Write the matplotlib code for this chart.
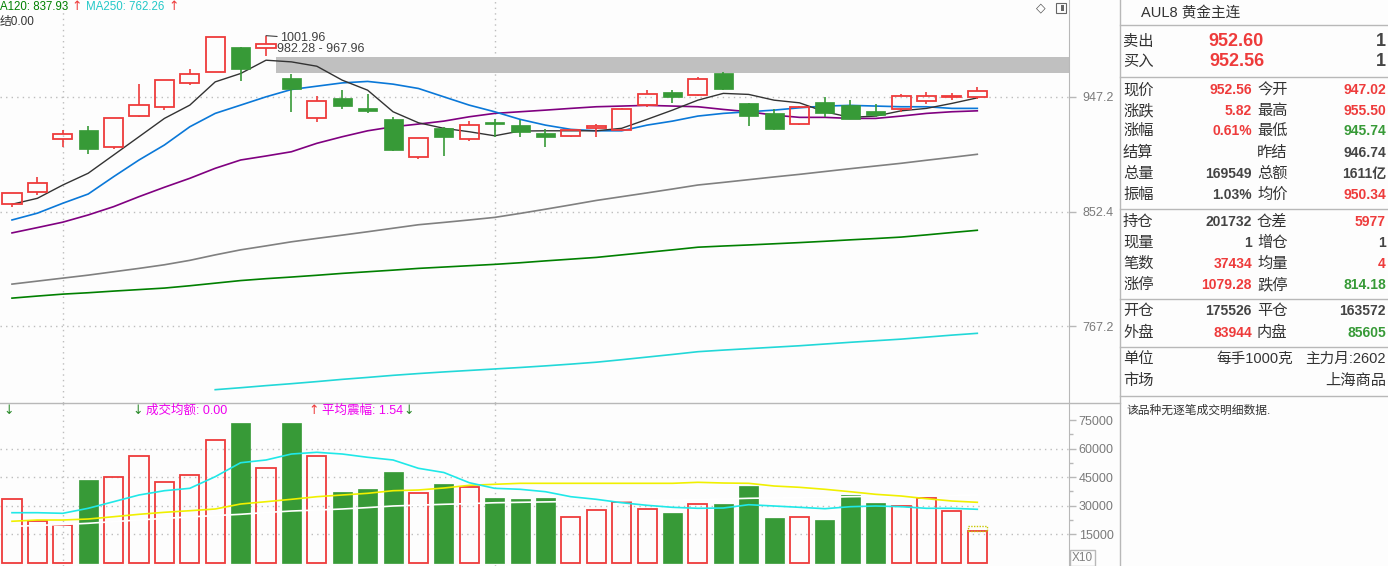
import numpy as np
import matplotlib
matplotlib.use("Agg")
import matplotlib.pyplot as plt
from matplotlib.patches import Rectangle
from matplotlib.lines import Line2D
from matplotlib.ticker import FixedLocator, FixedFormatter, NullLocator

plt.rcParams['font.family'] = ['Liberation Sans', 'Noto Sans CJK SC', 'DejaVu Sans']

# ---- daily bars (AUL8 黄金主连) ----
opens = [858.2, 867.7, 910.9, 918.7, 904.8, 930.3, 938.0, 958.9, 969.2, 991.6,
         991.1, 963.6, 928.6, 946.1, 937.4, 928.0, 896.0, 920.4, 910.9, 925.5,
         922.7, 916.2, 913.9, 920.4, 918.7, 940.3, 951.3, 948.4, 968.0, 941.8,
         933.1, 923.5, 942.6, 939.8, 934.9, 936.3, 943.2, 947.2, 947.02]
closes = [866.9, 874.9, 915.1, 902.6, 928.6, 939.8, 961.6, 966.9, 1000.5, 971.8,
          994.7, 954.2, 943.5, 939.4, 935.1, 902.3, 911.8, 913.1, 922.7, 924.1,
          916.8, 913.1, 918.7, 922.1, 936.6, 949.6, 947.2, 962.7, 953.9, 930.6,
          919.8, 938.6, 933.4, 928.3, 931.4, 947.5, 947.5, 947.8, 952.56]
highs = [867.5, 880.2, 918.7, 922.1, 929.0, 958.3, 962.2, 971.3, 1000.5, 992.0,
         1001.96, 967.5, 947.8, 953.0, 949.6, 930.0, 912.3, 921.5, 926.3, 928.0,
         926.9, 919.6, 919.2, 923.5, 937.7, 953.0, 953.0, 964.5, 969.2, 942.2,
         936.6, 939.0, 946.9, 944.3, 940.6, 949.6, 951.3, 950.4, 955.50]
lows = [856.3, 865.8, 904.8, 898.7, 902.8, 930.0, 935.7, 957.7, 968.7, 961.2,
        983.5, 934.3, 925.2, 936.8, 932.9, 901.4, 894.9, 897.3, 909.7, 912.6,
        913.1, 904.8, 913.1, 913.1, 917.9, 938.0, 942.0, 948.0, 953.0, 922.4,
        919.0, 923.3, 930.0, 927.8, 929.5, 934.3, 940.6, 944.6, 945.74]

ma5 = [858.2, 862.9, 873.5, 883.0, 897.9, 913.1, 928.6, 940.0, 960.3, 967.7,
       979.6, 978.1, 974.2, 961.8, 953.0, 934.3, 924.9, 920.2, 917.3, 913.9,
       917.9, 918.1, 918.1, 918.1, 920.2, 927.8, 935.7, 944.3, 950.2, 949.3,
       944.3, 942.0, 934.3, 929.5, 930.6, 935.1, 937.2, 941.5, 946.3]
ma10 = [845.9, 851.2, 859.0, 866.3, 880.2, 893.8, 906.2, 921.5, 932.9, 940.0,
        947.2, 953.6, 956.5, 959.4, 960.7, 958.3, 954.5, 947.2, 940.0, 934.3,
        927.8, 922.9, 919.3, 918.1, 918.1, 922.9, 926.3, 930.6, 932.9, 934.3,
        935.7, 937.7, 939.2, 939.8, 939.2, 938.6, 938.6, 937.2, 937.2]
ma20 = [835.9, 840.0, 844.2, 849.8, 856.3, 864.2, 871.7, 878.9, 887.0, 893.8,
        897.1, 900.6, 907.6, 913.1, 918.1, 921.5, 923.8, 926.3, 930.0, 932.9,
        934.3, 935.7, 937.2, 938.6, 939.2, 939.8, 939.2, 938.6, 936.3, 934.3,
        931.4, 929.5, 929.5, 928.6, 928.6, 930.6, 932.9, 934.3, 935.1]
ma60 = [797.5, 799.7, 801.9, 804.1, 806.6, 809.1, 811.8, 815.1, 819.2, 823.0,
        826.0, 829.1, 831.7, 834.2, 836.8, 839.5, 842.2, 844.0, 845.9, 847.9,
        851.0, 854.3, 857.7, 861.2, 864.2, 867.2, 870.3, 873.5, 875.6, 877.8,
        880.0, 882.1, 884.4, 886.7, 888.9, 891.1, 893.6, 896.0, 898.5]
ma120 = [787.3, 788.8, 790.2, 791.2, 792.4, 793.5, 794.6, 796.3, 798.2, 800.1,
         801.5, 802.7, 804.0, 805.4, 806.6, 807.8, 809.1, 810.1, 811.1, 812.1,
         813.3, 814.7, 816.0, 817.3, 819.2, 821.1, 823.0, 825.0, 825.9, 826.7,
         827.6, 828.5, 829.5, 830.6, 831.6, 832.7, 834.4, 836.2, 837.93]
ma250 = [np.nan] * 8 + [
    723.8, 725.1, 726.5, 727.8, 729.2, 730.7, 732.0, 733.4, 734.6, 735.7,
    736.7, 737.7, 738.7, 739.8, 741.0, 742.3, 744.0, 745.8, 747.6, 749.5,
    750.6, 751.6, 752.6, 753.6, 754.8, 756.0, 757.1, 758.2, 759.6, 761.0, 762.26]

volumes = [33260, 21900, 19580, 43420, 44840, 55890, 42210, 45890, 64320, 73420,
           49580, 73420, 55890, 37110, 38680, 47630, 36420, 41320, 39560, 33950,
           33420, 33950, 23780, 27470, 31680, 28000, 26050, 30630, 30790, 40260,
           23420, 23780, 22370, 35530, 31320, 29580, 33790, 26950, 16420]
vol_ma5 = [26210, 26210, 25890, 28530, 32000, 35530, 37790, 39050, 45160, 52520,
           53950, 57100, 58000, 57100, 55370, 53950, 49580, 47370, 42000, 39050,
           38530, 37260, 34630, 33260, 31470, 30100, 29050, 28530, 28680, 30420,
           29740, 29050, 28320, 29370, 29740, 29370, 28530, 28530, 28000]
vol_ma10 = [21700, 22370, 22370, 22890, 24100, 25370, 26420, 27260, 28160, 30790,
            32000, 33260, 34630, 35530, 36420, 37790, 38160, 39210, 40630, 41160,
            41680, 41680, 41680, 41680, 41680, 41680, 41680, 42210, 41840, 41680,
            40260, 39580, 38530, 37260, 35890, 35000, 33580, 32370, 31680]
vol_ma60 = [19000, 19500, 20000, 20630, 21500, 22400, 23200, 24000, 24700, 25370,
            26300, 27100, 27600, 28160, 28900, 29740, 30200, 30630, 31000, 31450,
            31680, 31900, 32100, 32300, 32500, 32700, 32900, 33100, 33400, 33790,
            34000, 34100, 34300, 34630, 34800, 35000, 35200, 35300, 35500]
vol_estimate = 19050

price_ticks = [767.2, 852.4, 947.2]
vol_ticks = [15000, 30000, 45000, 60000, 75000]
band_low, band_high = 967.96, 982.28

RED = '#ee3b3b'
GREEN = '#379a37'
BG = '#fdfdfd'
GRID = '#bdbdbd'
AXC = '#b8b8b8'
ARROW_FONT = ['DejaVu Sans']

W, H = 1388, 566
fig = plt.figure(figsize=(W / 100, H / 100), dpi=100)
fig.patch.set_facecolor(BG)


def fx(x):
    return x / W


def fy(y):
    return 1 - y / H


ax = fig.add_axes([0, fy(403), fx(1069), 1 - fy(403)])
axv = fig.add_axes([0, 0, fx(1069), fy(403)])
n = len(closes)
idx = np.arange(n)
bw = 0.75

for a in (ax, axv):
    a.set_facecolor(BG)
    a.set_xlim(-0.472, 41.61)
    a.set_xticks([])
    for s in ('top', 'left', 'bottom'):
        a.spines[s].set_visible(False)
    a.spines['right'].set_color(AXC)
    a.yaxis.tick_right()
    a.axvline(2, color=GRID, ls=(0, (1, 3)), lw=1, zorder=0)
    a.axvline(19, color=GRID, ls=(0, (1, 3)), lw=1, zorder=0)

# ---- price panel ----
ax.set_yscale('log')
ax.set_ylim(715.0, 1035.3)
ax.yaxis.set_major_locator(FixedLocator(price_ticks))
ax.yaxis.set_major_formatter(FixedFormatter([f'{t:.1f}' for t in price_ticks]))
ax.yaxis.set_minor_locator(NullLocator())
ax.tick_params(axis='y', length=5, width=1, color=AXC, labelcolor='#7a7a7a',
               labelsize=9, pad=27)
for lb in ax.get_yticklabels():
    lb.set_horizontalalignment('right')
for t in price_ticks:
    ax.axhline(t, color=GRID, ls=(0, (1, 3)), lw=1, zorder=0)

ax.fill_between([10 + bw / 2, 41.61], band_low, band_high, color='#c0c0c0', lw=0, zorder=1)

ax.plot(idx, ma60, color='#808080', lw=1.2, zorder=2)
ax.plot(idx, ma120, color='#008000', lw=1.2, zorder=2)
ax.plot(idx, ma250, color='#22d8d8', lw=1.2, zorder=2)
ax.plot(idx, ma20, color='#800080', lw=1.2, zorder=2)
ax.plot(idx, ma10, color='#0a78d8', lw=1.2, zorder=2)
ax.plot(idx, ma5, color='#333333', lw=1.0, zorder=2)

for i in range(n):
    o, c, h, l = opens[i], closes[i], highs[i], lows[i]
    top, bot = max(o, c), min(o, c)
    if c >= o:
        ax.add_patch(Rectangle((i - bw / 2, bot), bw, max(top - bot, 0.3), fill=False,
                               ec=RED, lw=1.3, zorder=3))
        ax.vlines(i, top, h, color=RED, lw=1.2, zorder=3)
        ax.vlines(i, l, bot, color=RED, lw=1.2, zorder=3)
    else:
        ax.vlines(i, l, h, color=GREEN, lw=1.2, zorder=3)
        ax.add_patch(Rectangle((i - bw / 2, bot), bw, top - bot, fc=GREEN, ec=GREEN,
                               lw=0.5, zorder=4))

ax.annotate('1001.96', xy=(10, 1001.96), xytext=(10, -2), textcoords='offset points',
            fontsize=9, color='#404040', va='center', ha='left',
            arrowprops=dict(arrowstyle='-', color='#404040', lw=0.8, shrinkA=0, shrinkB=0))
fig.text(fx(277), fy(48.5), f'{band_high:.2f} - {band_low:.2f}', fontsize=9,
         color='#404040', va='center')

# header of the price panel
fig.text(fx(0), fy(7), 'A120: 837.93', color='#008000', fontsize=8.3, va='center')
fig.text(fx(71), fy(7), '↑', color=RED, fontsize=9, va='center', family=ARROW_FONT)
fig.text(fx(86), fy(7), 'MA250: 762.26', color='#22c8c8', fontsize=8.3, va='center')
fig.text(fx(168), fy(7), '↑', color=RED, fontsize=9, va='center', family=ARROW_FONT)
fig.text(fx(0), fy(22), '结0.00', color='#333333', fontsize=8.5, va='center')
fig.text(fx(1036), fy(8), '◇', color='#555555', fontsize=9, va='center',
         family=ARROW_FONT)
fig.add_artist(Rectangle((fx(1056), fy(13)), fx(10), 10 / H, fill=False, ec='#666666', lw=0.8))
fig.add_artist(Rectangle((fx(1061), fy(11)), fx(3), 6 / H, fc='#666666', lw=0))

# ---- volume panel ----
axv.set_ylim(-1840, 83950)
axv.yaxis.set_major_locator(FixedLocator(vol_ticks))
axv.yaxis.set_major_formatter(FixedFormatter([str(t) for t in vol_ticks]))
axv.yaxis.set_minor_locator(FixedLocator([22500, 37500, 52500, 67500]))
axv.tick_params(axis='y', which='major', length=5, width=1, color=AXC,
                labelcolor='#7a7a7a', labelsize=9, pad=27)
axv.tick_params(axis='y', which='minor', length=3, width=1, color=AXC)
for lb in axv.get_yticklabels():
    lb.set_horizontalalignment('right')
for t in vol_ticks[:-1]:
    axv.axhline(t, color=GRID, ls=(0, (1, 3)), lw=1, zorder=0)

for i in range(n):
    if closes[i] >= opens[i]:
        axv.add_patch(Rectangle((i - bw / 2, 0), bw, volumes[i], fill=False, ec=RED,
                                lw=1.3, zorder=2))
    else:
        axv.add_patch(Rectangle((i - bw / 2, 0), bw, volumes[i], fc=GREEN, ec=GREEN,
                                lw=0.5, zorder=2))
axv.add_patch(Rectangle((n - 1 - bw / 2, volumes[-1]), bw, vol_estimate - volumes[-1],
                        fill=False, ec='#c8c800', lw=1, ls=(0, (1, 1)), zorder=2))
axv.plot(idx, vol_ma60, color='white', lw=1.2, zorder=3)
axv.plot(idx, vol_ma10, color='#f0f000', lw=1.2, zorder=3)
axv.plot(idx, vol_ma5, color='#20e8e8', lw=1.2, zorder=3)

fig.text(fx(3), fy(411), '↓', color='#2a8a2a', fontsize=9, va='center', family=ARROW_FONT)
fig.text(fx(132), fy(411), '↓', color='#2a8a2a', fontsize=9, va='center', family=ARROW_FONT)
fig.text(fx(146), fy(411), '成交均额: 0.00', color='#ee00ee', fontsize=9, va='center')
fig.text(fx(308), fy(411), '↑', color=RED, fontsize=9, va='center', family=ARROW_FONT)
fig.text(fx(322), fy(411), '平均震幅: 1.54', color='#ee00ee', fontsize=9, va='center')
fig.text(fx(403), fy(411), '↓', color='#2a8a2a', fontsize=9, va='center', family=ARROW_FONT)

fig.add_artist(Rectangle((fx(1070), 0), fx(25), 16 / H, fill=False, ec=AXC, lw=1))
fig.text(fx(1072), fy(558), 'X10', color='#808080', fontsize=8.5, va='center')

# separators
fig.add_artist(Line2D([0, fx(1120)], [fy(403), fy(403)], color=AXC, lw=1))
fig.add_artist(Line2D([fx(1120), fx(1120)], [0, 1], color=AXC, lw=1))
for yy in (25, 77, 209, 299, 347, 396):
    fig.add_artist(Line2D([fx(1120), 1], [fy(yy), fy(yy)], color=AXC, lw=1))

# ---- quote panel ----
DARK = '#444444'
LBL = '#333333'
fig.text(fx(1141), fy(13), 'AUL8 黄金主连', color=LBL, fontsize=10.5, va='center')
fig.text(fx(1123), fy(42), '卖出', color=LBL, fontsize=11, va='center')
fig.text(fx(1123), fy(62), '买入', color=LBL, fontsize=11, va='center')
fig.text(fx(1264), fy(42), '952.60', color=RED, fontsize=13, weight='bold', va='center', ha='right')
fig.text(fx(1264), fy(62), '952.56', color=RED, fontsize=13, weight='bold', va='center', ha='right')
fig.text(fx(1386), fy(42), '1', color=DARK, fontsize=13, weight='bold', va='center', ha='right')
fig.text(fx(1386), fy(62), '1', color=DARK, fontsize=13, weight='bold', va='center', ha='right')

quote_rows = [
    (90, '现价', '952.56', RED, '今开', '947.02', RED),
    (111, '涨跌', '5.82', RED, '最高', '955.50', RED),
    (131, '涨幅', '0.61%', RED, '最低', '945.74', GREEN),
    (153, '结算', '', DARK, '昨结', '946.74', DARK),
    (174, '总量', '169549', DARK, '总额', '1611亿', DARK),
    (195, '振幅', '1.03%', DARK, '均价', '950.34', RED),
    (222, '持仓', '201732', DARK, '仓差', '5977', RED),
    (243, '现量', '1', DARK, '增仓', '1', DARK),
    (264, '笔数', '37434', RED, '均量', '4', RED),
    (285, '涨停', '1079.28', RED, '跌停', '814.18', GREEN),
    (311, '开仓', '175526', DARK, '平仓', '163572', DARK),
    (333, '外盘', '83944', RED, '内盘', '85605', GREEN),
]
for yy, l1, v1, c1, l2, v2, c2 in quote_rows:
    fig.text(fx(1123), fy(yy), l1, color=LBL, fontsize=11, va='center')
    fig.text(fx(1252), fy(yy), v1, color=c1, fontsize=10, weight='bold', va='center', ha='right')
    fig.text(fx(1257), fy(yy), l2, color=LBL, fontsize=11, va='center')
    fig.text(fx(1386), fy(yy), v2, color=c2, fontsize=10, weight='bold', va='center', ha='right')

fig.text(fx(1123), fy(359), '单位', color=LBL, fontsize=11, va='center')
fig.text(fx(1293), fy(359), '每手1000克', color=LBL, fontsize=10.5, va='center', ha='right')
fig.text(fx(1386), fy(359), '主力月:2602', color=LBL, fontsize=10.5, va='center', ha='right')
fig.text(fx(1123), fy(381), '市场', color=LBL, fontsize=11, va='center')
fig.text(fx(1386), fy(381), '上海商品', color=LBL, fontsize=11, va='center', ha='right')
fig.text(fx(1126), fy(411), '该品种无逐笔成交明细数据.', color=LBL, fontsize=8.5, va='center')

fig.savefig('out.png', dpi=100, facecolor=fig.get_facecolor())
